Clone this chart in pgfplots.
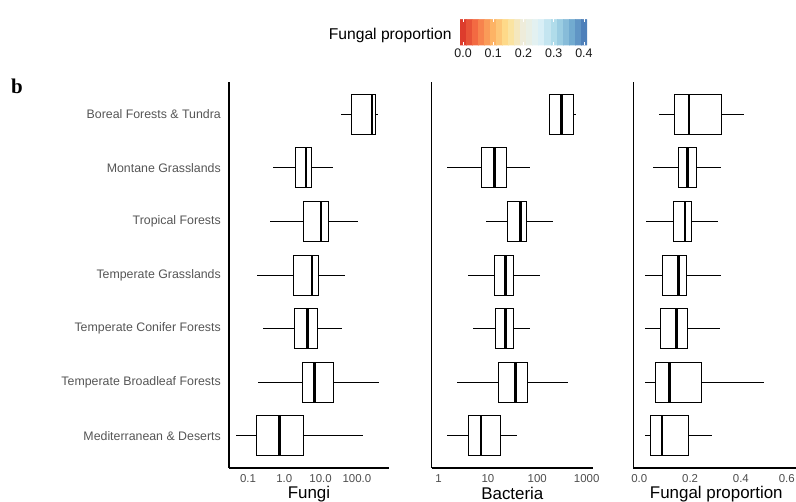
\documentclass[border=0pt]{standalone}
\usepackage{fontspec}
\setmainfont{Liberation Sans}
\newfontfamily\seriffont{Liberation Serif}
\usepackage{pgfplots}
\pgfplotsset{compat=1.18}
\usepgfplotslibrary{statistics}
\definecolor{tickgray}{HTML}{4D4D4D}
\definecolor{labgray}{HTML}{555555}

\newcommand{\bx}[6]{\addplot[black, line width=0.8bp, boxplot prepared={draw position=#1, lower whisker=#2, lower quartile=#3, median=#4, upper quartile=#5, upper whisker=#6}] coordinates {};}

\pgfplotsset{
  panel/.style={
    scale only axis, height=386bp, ymin=0.4, ymax=7.6,
    axis lines*=left, axis line style={line width=1.4bp, black},
    major tick length=0pt, minor tick length=0pt, minor tick num=0,
    ytick={1,...,7}, yticklabels={},
    xticklabel style={font=\fontsize{11.5}{13}\selectfont, text=tickgray, inner sep=0pt, anchor=north, yshift=-6bp},
    xlabel style={font=\fontsize{17}{20}\selectfont, at={(axis description cs:0.5,0)}, anchor=base, yshift=-31bp, inner sep=0pt},
    boxplot/draw direction=x, boxplot/box extend=0.745, boxplot/whisker extend=0,
    boxplot/every median/.style={line width=2.6bp},
    clip=false,
  },
}

\begin{document}
\begin{tikzpicture}
\useasboundingbox (0,0) rectangle (796bp,502bp);

% ---------- Fungi ----------
\begin{axis}[panel, at={(229bp,34bp)}, anchor=south west, width=160bp,
  xmode=log, xmin=0.030, xmax=766,
  xtick={0.1,1,10,100}, xticklabels={0.1,1.0,10.0,100.0},
  yticklabels={Mediterranean \& Deserts, Temperate Broadleaf Forests, Temperate Conifer Forests, Temperate Grasslands, Tropical Forests, Montane Grasslands, Boreal Forests \& Tundra},
  yticklabel style={font=\fontsize{12.4}{14}\selectfont, text=labgray, anchor=east, inner sep=0pt, xshift=-8bp},
  xlabel={Fungi}]
\bx{7}{36.5}{72}{261}{330}{381}
\bx{6}{0.479}{1.97}{3.96}{5.44}{21.5}
\bx{5}{0.411}{3.42}{10.3}{16.3}{105}
\bx{4}{0.177}{1.74}{5.8}{8.48}{47.9}
\bx{3}{0.259}{1.85}{4.30}{8.32}{38.1}
\bx{2}{0.188}{3.07}{6.70}{22.4}{399}
\bx{1}{0.0467}{0.166}{0.728}{3.27}{144}
\end{axis}

% ---------- Bacteria ----------
\begin{axis}[panel, at={(431.7bp,34bp)}, anchor=south west, width=161.3bp,
  xmode=log, xmin=0.728, xmax=1342,
  xtick={1,10,100,1000}, xticklabels={1,10,100,1000},
  xlabel={Bacteria}]
\bx{7}{170}{172}{306}{546}{616}
\bx{6}{1.51}{7.49}{13.5}{23.6}{72.2}
\bx{5}{9.03}{25.2}{46.1}{59.1}{205}
\bx{4}{4.01}{13.7}{22.9}{32.7}{113}
\bx{3}{5.06}{14.4}{22.9}{33.3}{70.2}
\bx{2}{2.34}{16.2}{36.5}{62.8}{412}
\bx{1}{1.51}{4.01}{7.25}{17.6}{39.4}
\end{axis}

% ---------- Fungal proportion ----------
\begin{axis}[panel, at={(633.3bp,34bp)}, anchor=south west, width=166bp,
  xmin=-0.0236, xmax=0.630,
  xtick={0,0.2,0.4,0.6}, xticklabels={0.0,0.2,0.4,{\makebox[6bp][r]{0.6}}},
  xlabel={Fungal proportion}]
\bx{7}{0.079}{0.138}{0.196}{0.322}{0.413}
\bx{6}{0.054}{0.155}{0.189}{0.226}{0.320}
\bx{5}{0.025}{0.133}{0.180}{0.207}{0.309}
\bx{4}{0.022}{0.092}{0.154}{0.185}{0.322}
\bx{3}{0.024}{0.083}{0.146}{0.190}{0.317}
\bx{2}{0.024}{0.062}{0.118}{0.243}{0.492}
\bx{1}{0.021}{0.042}{0.089}{0.194}{0.285}
\end{axis}

% ---------- colour bar legend ----------
\begin{axis}[hide axis, scale only axis, at={(460bp,491bp)}, anchor=south west,
  width=127bp, height=1bp, xmin=0, xmax=1, ymin=0, ymax=1,
  colormap={fp}{rgb255=(215,48,39) rgb255=(244,109,67) rgb255=(253,174,97) rgb255=(254,224,144) rgb255=(238,236,218) rgb255=(224,243,248) rgb255=(171,217,233) rgb255=(116,173,209) rgb255=(69,117,180)},
  point meta min=-0.01, point meta max=0.41,
  colorbar horizontal, colorbar sampled,
  colorbar style={samples=22, at={(parent axis.south west)}, anchor=north west,
    scale only axis, width=127bp, height=26bp,
    axis line style={draw=none},
    xtick={0,0.1,0.2,0.3,0.4}, xticklabels={0.0,0.1,0.2,0.3,0.4},
    xtick pos=both, xticklabel pos=left, tick align=inside,
    major tick length=3bp, tick style={white, line width=0.8bp},
    xticklabel style={font=\fontsize{12.5}{14}\selectfont, text=black!90, inner sep=0pt, anchor=north, yshift=-3bp}}]
\end{axis}

\node[anchor=east, inner sep=0pt, font=\fontsize{15.7}{18}\selectfont] at (451.7bp,467bp) {Fungal proportion};
\node[anchor=base west, inner sep=0pt, font=\seriffont\bfseries\fontsize{21}{21}\selectfont] at (11bp,408.7bp) {b};
\end{tikzpicture}
\end{document}
